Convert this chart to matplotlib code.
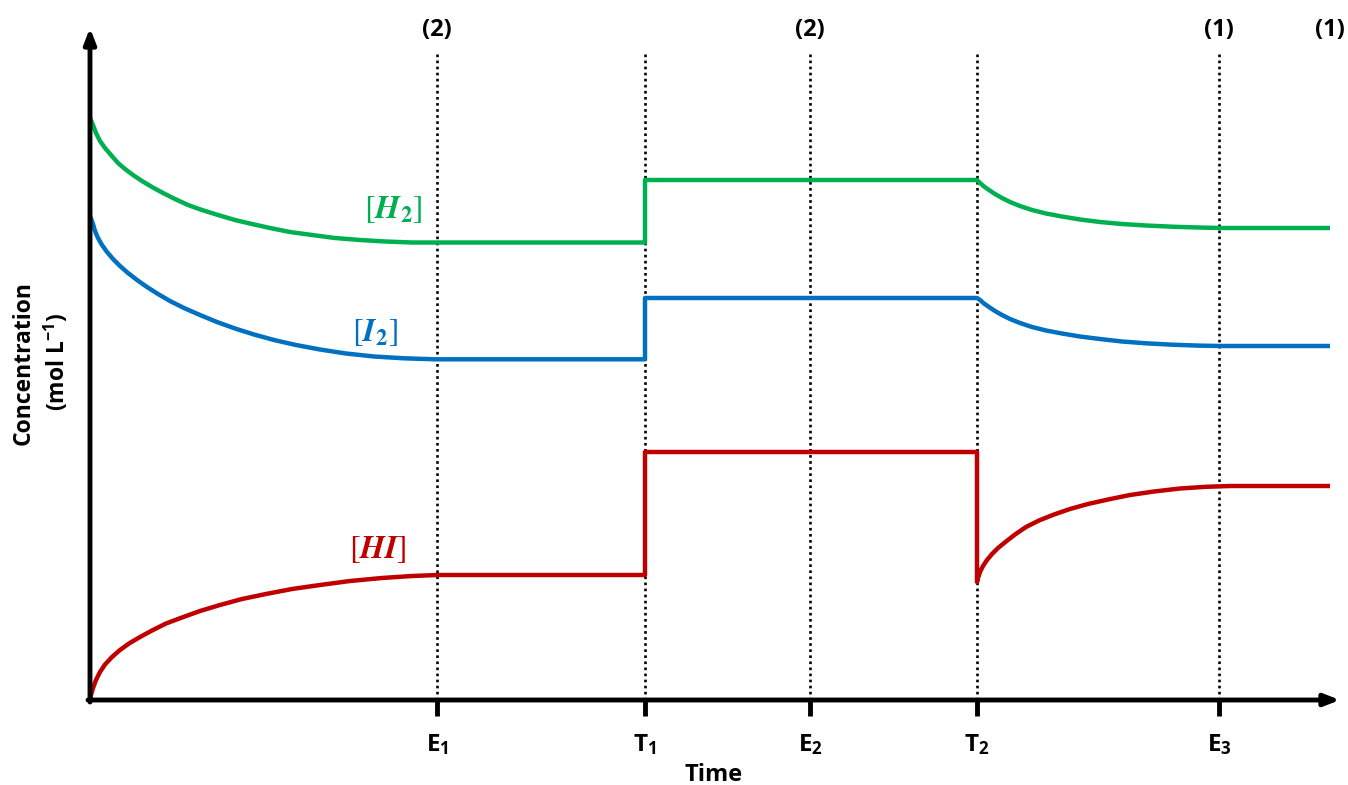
import matplotlib
matplotlib.use("Agg")
import matplotlib.pyplot as plt

plt.rcParams["font.family"] = ["Open Sans", "DejaVu Sans"]
plt.rcParams["mathtext.fontset"] = "custom"
plt.rcParams["mathtext.rm"] = "Open Sans:bold"
plt.rcParams["mathtext.bf"] = "Open Sans:bold"
plt.rcParams["mathtext.it"] = "Open Sans:bold"

# Event times (equilibria E, disturbances T), arbitrary time units
event_labels = ["E$_1$", "T$_1$", "E$_2$", "T$_2$", "E$_3$"]
event_times = [347, 555, 720, 887, 1129]

# Labels above the plot giving the direction of the shift
shift_labels = ["(2)", "(2)", "(1)", "(1)"]
shift_times = [347, 720, 1129, 1240]

# Concentration traces (arbitrary concentration units)
h2_t = [0, 3, 6, 10, 15, 21, 28, 35, 43, 52, 62, 73, 85, 98, 112, 128, 145,
        162, 180, 200, 222, 245, 270, 295, 322, 348,
        555, 555, 887,
        890, 894, 899, 905, 912, 920, 930, 942, 956, 972, 990, 1010, 1032,
        1056, 1082, 1108, 1130, 1240]
h2_c = [582, 575, 567, 559, 552, 545, 537, 531, 525, 519, 513, 507, 501, 495,
        490, 485, 480, 476, 472, 468, 465, 462, 460, 458.5, 457.5, 457.5,
        457.5, 520, 520,
        517, 513.5, 510, 506, 502, 498, 494, 490, 486.5, 483.5, 480.5, 478,
        476, 474.5, 473.3, 472.5, 472, 472]

i2_t = [0, 3, 5, 8, 12, 17, 23, 30, 38, 47, 57, 68, 80, 94, 110, 127, 145,
        164, 184, 206, 230, 256, 284, 314, 345,
        555, 555, 887,
        890, 894, 899, 905, 912, 920, 930, 942, 956, 972, 990, 1010, 1032,
        1056, 1082, 1108, 1130, 1240]
i2_c = [484, 476, 469, 462, 455, 448, 441, 434, 427, 420, 413, 406, 399, 392,
        385, 378, 371.5, 365.5, 360, 355, 350.5, 346.5, 343.5, 341.7, 340.7,
        340.7, 402, 402,
        400, 396.5, 393, 389, 385, 381, 377, 373, 369.5, 366.5, 363.5, 361,
        358.5, 356.7, 355.3, 354.4, 354, 354]

hi_t = [0, 1, 3, 6, 10, 15, 22, 30, 39, 50, 62, 76, 92, 110, 130, 152, 176,
        202, 230, 260, 292, 322, 348,
        555, 555, 887, 887,
        888, 890, 893, 897, 902, 908, 916, 925, 936, 949, 964, 980, 998, 1018,
        1040, 1064, 1090, 1116, 1140, 1240]
hi_c = [0, 5, 12, 20, 28, 35.5, 43, 50, 56.5, 63, 69.5, 76.5, 82.5, 89, 95,
        101, 106, 111, 115, 119, 122, 124, 125,
        125, 248, 248, 118,
        122, 128, 134, 140, 146, 152, 158.5, 165.5, 173, 179.5, 185.5, 191,
        196, 200.5, 205, 208.5, 211.5, 213.2, 214, 214]

species = [
    (r"$[\mathbfit{H}_\mathbf{2}]$", h2_t, h2_c, "#00B050", (303, 490)),
    (r"$[\mathbfit{I}_\mathbf{2}]$", i2_t, i2_c, "#0070C0", (285, 367)),
    (r"$[\mathbfit{HI}]$", hi_t, hi_c, "#C00000", (288, 150)),
]

fig = plt.figure(figsize=(13.48, 7.85), dpi=100)
ax = fig.add_axes([0, 0, 1, 1])
ax.set_xlim(-90, 1258)
ax.set_ylim(-85, 700)
ax.axis("off")

# Dotted guides and short ticks at each event
for t in event_times:
    ax.plot([t, t], [0, 648], color="black", lw=1.9,
            linestyle=(0, (1, 1.3)), zorder=1)
    ax.plot([t, t], [0, -16], color="black", lw=3.5, solid_capstyle="butt",
            zorder=3)

for lab, t in zip(event_labels, event_times):
    ax.text(t, -45, lab, ha="center", va="center", fontsize=17.5,
            fontweight="bold")

for lab, t in zip(shift_labels, shift_times):
    ax.text(t, 670, lab, ha="center", va="center", fontsize=17,
            fontweight="bold")

# Concentration curves with their labels
for lab, t, c, col, pos in species:
    ax.plot(t, c, color=col, lw=3.2, solid_joinstyle="round",
            solid_capstyle="butt", zorder=2)
    ax.text(pos[0], pos[1], lab, color=col, ha="center", va="center",
            fontsize=23, math_fontfamily="stix")

# Axes drawn as arrows
arrow = dict(arrowstyle="-|>,head_length=0.9,head_width=0.35", lw=3.5,
             color="black", shrinkA=0, shrinkB=0)
ax.annotate("", xy=(0, 672), xytext=(0, -2), arrowprops=arrow, zorder=4)
ax.annotate("", xy=(1250, 0), xytext=(-2, 0), arrowprops=arrow, zorder=4)

ax.text(624, -75, "Time", ha="center", va="center", fontsize=17,
        fontweight="bold")
ax.text(-66, 337, "Concentration", rotation=90, ha="center", va="center",
        fontsize=16.5, fontweight="bold")
ax.text(-33, 338, "(mol L$^{-1}$)", rotation=90, ha="center", va="center",
        fontsize=16.5, fontweight="bold")

fig.savefig("out.png", dpi=100)
